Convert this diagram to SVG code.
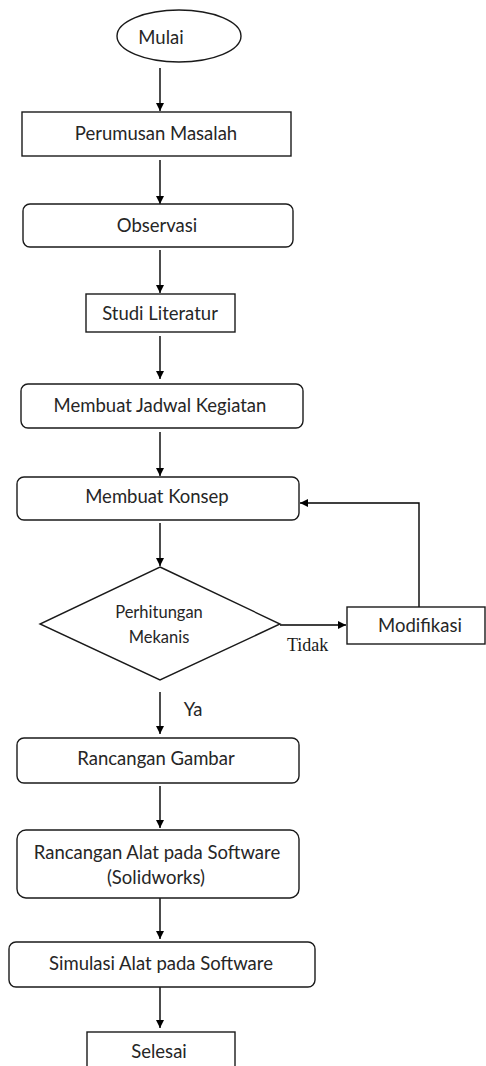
<svg xmlns="http://www.w3.org/2000/svg" width="486" height="1066" viewBox="0 0 486 1066">
  <defs>
    <marker id="arrow" viewBox="0 0 10 10" refX="10" refY="5" markerWidth="8" markerHeight="8" markerUnits="userSpaceOnUse" orient="auto">
      <path d="M0,0 L10,5 L0,10 z" fill="#000"/>
    </marker>
    <style>
      .box { fill: #fff; stroke: #1a1a1a; stroke-width: 1.4; }
      .lbl { font-family: Lato, "Liberation Sans", sans-serif; font-size: 18.5px; fill: #262626; text-anchor: middle; }
      .small { font-size: 16.5px; }
      .serif { font-family: "Liberation Serif", serif; font-size: 18px; fill: #1a1a1a; }
      .edge { fill: none; stroke: #000; stroke-width: 1.4; marker-end: url(#arrow); }
    </style>
  </defs>
  <rect width="486" height="1066" fill="#fff"/>

  <!-- connectors -->
  <g id="connectors">
    <line class="edge" x1="160" y1="68" x2="160" y2="111"/>
    <line class="edge" x1="160" y1="160" x2="160" y2="204"/>
    <line class="edge" x1="160" y1="250" x2="160" y2="293"/>
    <line class="edge" x1="160" y1="336" x2="160" y2="379"/>
    <line class="edge" x1="160" y1="432" x2="160" y2="476"/>
    <line class="edge" x1="160" y1="523" x2="160" y2="566"/>
    <line class="edge" x1="280" y1="625" x2="346" y2="625"/>
    <polyline class="edge" points="419,607 419,503 300,503"/>
    <line class="edge" x1="160" y1="692" x2="160" y2="734"/>
    <line class="edge" x1="160" y1="786" x2="160" y2="828"/>
    <line class="edge" x1="160" y1="897" x2="160" y2="939"/>
    <line class="edge" x1="160" y1="987" x2="160" y2="1028"/>
    <text class="serif" x="287" y="651">Tidak</text>
    <text class="lbl" x="193" y="716">Ya</text>
  </g>

  <g id="mulai">
    <ellipse class="box" cx="179" cy="36" rx="62" ry="26"/>
    <text class="lbl" x="161" y="44">Mulai</text>
  </g>

  <g id="perumusan">
    <rect class="box" x="22" y="112" width="269" height="44"/>
    <text class="lbl" x="156" y="140">Perumusan Masalah</text>
  </g>

  <g id="observasi">
    <rect class="box" x="23" y="204" width="270" height="43" rx="7"/>
    <text class="lbl" x="157" y="232">Observasi</text>
  </g>

  <g id="studi">
    <rect class="box" x="86" y="294" width="149" height="38"/>
    <text class="lbl" x="160" y="320">Studi Literatur</text>
  </g>

  <g id="jadwal">
    <rect class="box" x="21" y="384" width="282" height="44" rx="7"/>
    <text class="lbl" x="160" y="412">Membuat Jadwal Kegiatan</text>
  </g>

  <g id="konsep">
    <rect class="box" x="17" y="477" width="282" height="43" rx="7"/>
    <text class="lbl" x="157" y="503">Membuat Konsep</text>
  </g>

  <g id="perhitungan">
    <polygon class="box" points="160,567 280,624 160,680 40,624"/>
    <text class="lbl small" x="159" y="618">Perhitungan</text>
    <text class="lbl small" x="159" y="643">Mekanis</text>
  </g>

  <g id="modifikasi">
    <rect class="box" x="347" y="607" width="138" height="37"/>
    <text class="lbl" x="420" y="632">Modifikasi</text>
  </g>

  <g id="gambar">
    <rect class="box" x="17" y="738" width="282" height="45" rx="7"/>
    <text class="lbl" x="156" y="765">Rancangan Gambar</text>
  </g>

  <g id="alat">
    <rect class="box" x="17" y="830" width="282" height="68" rx="9"/>
    <text class="lbl" x="157" y="859">Rancangan Alat pada Software</text>
    <text class="lbl" x="156" y="884">(Solidworks)</text>
  </g>

  <g id="simulasi">
    <rect class="box" x="9" y="942" width="306" height="45" rx="7"/>
    <text class="lbl" x="161" y="970">Simulasi Alat pada Software</text>
  </g>

  <g id="selesai">
    <rect class="box" x="87" y="1032" width="148" height="40"/>
    <text class="lbl" x="159" y="1058">Selesai</text>
  </g>
</svg>
